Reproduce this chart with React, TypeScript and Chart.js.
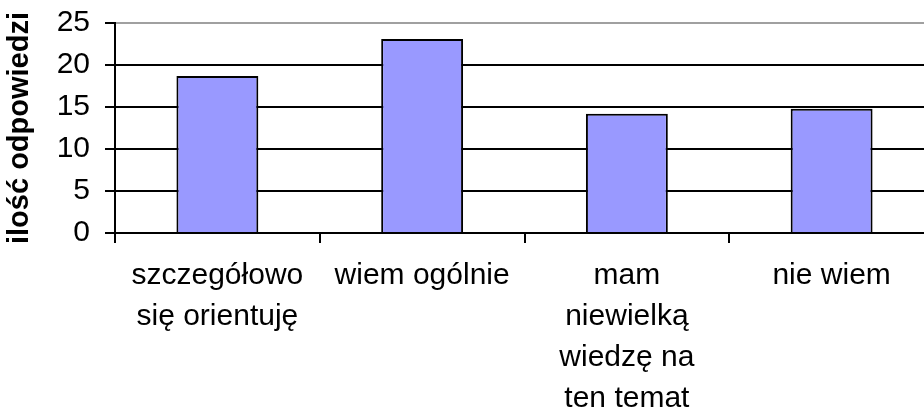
import React, { useEffect, useRef } from "react";
import { Chart, registerables } from "chart.js";

Chart.register(...registerables);

const categories: (string | string[])[] = [
  ["szczegółowo", "się orientuję"],
  ["wiem ogólnie"],
  ["mam", "niewielką", "wiedzę na", "ten temat"],
  ["nie wiem"],
];
const responses: number[] = [18.7, 23.1, 14.2, 14.8];
const yTitle = "ilość odpowiedzi";
const yMin = 0;
const yMax = 25;
const yStep = 5;

const FONT = "'Liberation Sans', Arial, sans-serif";

export default function App() {
  const ref = useRef<HTMLCanvasElement | null>(null);

  useEffect(() => {
    if (!ref.current) return;
    const chart = new Chart(ref.current, {
      type: "bar",
      data: {
        labels: categories,
        datasets: [
          {
            data: responses,
            backgroundColor: "#9999FF",
            borderColor: "#000000",
            borderWidth: 2,
            categoryPercentage: 1,
            barPercentage: 0.4,
          },
        ],
      },
      options: {
        animation: false,
        responsive: false,
        devicePixelRatio: 1,
        layout: { padding: { top: 23, right: 6, left: 0, bottom: 0 } },
        plugins: { legend: { display: false }, tooltip: { enabled: false } },
        scales: {
          x: {
            afterFit: (scale: any) => {
              scale.height = 179;
              scale.paddingLeft = 0;
              scale.paddingRight = 0;
            },
            grid: {
              drawOnChartArea: false,
              drawTicks: true,
              tickLength: 10,
              color: "#000000",
              lineWidth: 2,
            },
            border: { display: true, color: "#000000", width: 2 },
            ticks: {
              color: "#000000",
              font: { family: FONT, size: 30, lineHeight: 41 / 30 },
              padding: 12,
              maxRotation: 0,
              autoSkip: false,
            },
          },
          y: {
            min: yMin,
            max: yMax,
            afterFit: (scale: any) => {
              scale.width = 115;
              scale.paddingTop = 0;
              scale.paddingBottom = 0;
            },
            ticks: {
              stepSize: yStep,
              color: "#000000",
              font: { family: FONT, size: 30 },
              padding: 15,
            },
            grid: {
              color: (ctx: any) => (ctx.tick && ctx.tick.value === yMax ? "#a0a0a0" : "#000000"),
              tickColor: "#000000",
              lineWidth: 2,
              drawTicks: true,
              tickLength: 10,
            },
            border: { display: true, color: "#000000", width: 2 },
            title: {
              display: true,
              text: yTitle,
              color: "#000000",
              font: { family: FONT, size: 29, weight: "bold", lineHeight: 1 },
              padding: { top: 5, bottom: 0 },
            },
          },
        },
      },
    });
    return () => chart.destroy();
  }, []);

  return (
    <div
      style={{
        position: "fixed",
        left: 0,
        top: 0,
        width: 924,
        height: 412,
        overflow: "hidden",
        background: "#ffffff",
      }}
    >
      <canvas ref={ref} width={940} height={412} style={{ display: "block" }} />
    </div>
  );
}
